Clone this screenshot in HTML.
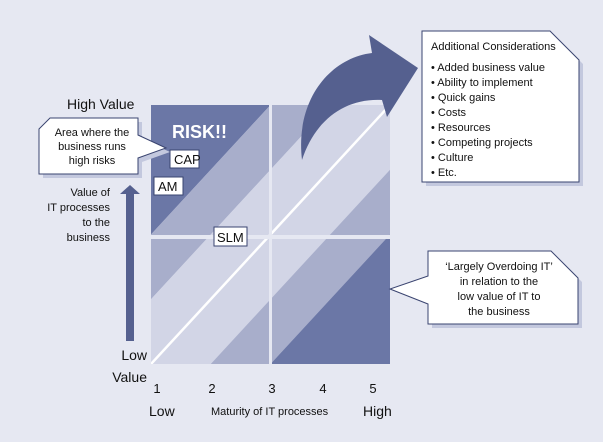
<!DOCTYPE html>
<html><head><meta charset="utf-8"><style>
html,body{margin:0;padding:0;background:#e6e8f2;width:603px;height:442px;overflow:hidden;}
svg{display:block;font-family:"Liberation Sans",sans-serif;}
</style></head><body>
<svg width="603" height="442" viewBox="0 0 603 442">
<defs>
<clipPath id="q1"><rect x="151" y="105" width="118" height="130"/></clipPath>
<clipPath id="q2"><rect x="272" y="105" width="118" height="130"/></clipPath>
<clipPath id="q3"><rect x="151" y="239" width="118" height="125"/></clipPath>
<clipPath id="q4"><rect x="272" y="239" width="118" height="125"/></clipPath>
</defs>
<rect width="603" height="442" fill="#e6e8f2"/>
<g id="bands"></g>
<g id="ticks"></g>
<path d="M302,160 C295,100 330,58 372,53 L369,35 L418,68 L387,117 L382,100 C345,98 315,120 302,160 Z" fill="#55608f"/>
<text x="172" y="138" font-size="18" font-weight="bold" fill="#ffffff">RISK!!</text>
<g><rect x="170" y="150" width="29" height="18" fill="#fff" stroke="#3a4470"/><text x="174" y="164" font-size="13" fill="#111">CAP</text></g>
<g><rect x="154" y="177" width="29" height="18" fill="#fff" stroke="#3a4470"/><text x="158" y="191" font-size="13" fill="#111">AM</text></g>
<g><rect x="214" y="227" width="33" height="19" fill="#fff" stroke="#3a4470"/><text x="217" y="242" font-size="13" fill="#111">SLM</text></g>
<text x="67" y="109" font-size="14" fill="#111">High Value</text>
<text x="147" y="360" font-size="14" fill="#111" text-anchor="end">Low</text>
<text x="147" y="382" font-size="14" fill="#111" text-anchor="end">Value</text>
<path d="M126,341 L126,194 L120,194 L130,185 L140,194 L134,194 L134,341 Z" fill="#55608f"/>
<g font-size="11" fill="#111" text-anchor="end">
<text x="110" y="196">Value of</text><text x="110" y="211">IT processes</text><text x="110" y="226">to the</text><text x="110" y="241">business</text></g>
<text x="149" y="416" font-size="14" fill="#111">Low</text>
<text x="211" y="415" font-size="11" fill="#111">Maturity of IT processes</text>
<text x="363" y="416" font-size="14" fill="#111">High</text>
<g>
<path d="M54,122 L142,122 L142,139 L170,152 L142,162 L142,178 L43,178 L43,133 Z" fill="#c3c8de"/>
<path d="M50,118 L138,118 L138,135 L166,148 L138,158 L138,174 L39,174 L39,129 Z" fill="#fff" stroke="#3a4470" stroke-width="1"/>
<g font-size="11" fill="#111" text-anchor="middle"><text x="92" y="136">Area where the</text><text x="92" y="150">business runs</text><text x="92" y="164">high risks</text></g></g>
<g>
<path d="M426,35 L554,35 L583,64 L583,186 L426,186 Z" fill="#c3c8de"/>
<path d="M422,31 L550,31 L579,60 L579,182 L422,182 Z" fill="#fff" stroke="#3a4470"/>
<g font-size="11" fill="#111"><text x="431" y="50">Additional Considerations</text>
<text x="431" y="71">• Added business value</text><text x="431" y="86">• Ability to implement</text><text x="431" y="101">• Quick gains</text><text x="431" y="116">• Costs</text><text x="431" y="131">• Resources</text><text x="431" y="146">• Competing projects</text><text x="431" y="161">• Culture</text><text x="431" y="176">• Etc.</text></g></g>
<g>
<path d="M432,255 L555,255 L582,282 L582,328 L432,328 Z" fill="#c3c8de"/>
<path d="M428,251 L551,251 L578,278 L578,324 L428,324 L428,304 L390,289 L428,276 Z" fill="#fff" stroke="#3a4470"/>
<g font-size="11" fill="#111" text-anchor="middle"><text x="499" y="270">‘Largely Overdoing IT’</text><text x="499" y="285">in relation to the</text><text x="499" y="300">low value of IT to</text><text x="499" y="315">the business</text></g></g>
</svg>
<script>
const bandEdges = [1, 0.5, 0.25, -0.25, -0.5, -1];
const bandShades = ["dark", "medium", "light", "medium", "dark"];
const tickLabels = ["1", "2", "3", "4", "5"];
const tickValues = [1, 2, 3, 4, 5];
const tickPositions = [157, 212, 272, 323, 373];
const colors = {dark:"#6b77a6", medium:"#a8aecb", light:"#d2d5e6"};
const X0=151, X1=390, Y0=364, Y1=105;
const sx = u => X0 + u*(X1-X0);
const sy = v => Y0 - v*(Y0-Y1);
const NS="http://www.w3.org/2000/svg";
const bands=document.getElementById('bands');
function bandPoly(a,b){
  const pts=[[-1,-1+a],[2,2+a],[2,2+b],[-1,-1+b]];
  return pts.map(p=>sx(p[0]).toFixed(1)+","+sy(p[1]).toFixed(1)).join(" ");
}
["q1","q2","q3","q4"].forEach(q=>{
  const g=document.createElementNS(NS,'g');
  g.setAttribute('clip-path','url(#'+q+')');
  
  
  for(let i=0;i<bandShades.length;i++){
    const p=document.createElementNS(NS,'polygon');
    p.setAttribute('points',bandPoly(bandEdges[i],bandEdges[i+1]));
    p.setAttribute('fill',colors[bandShades[i]]);
    
    
    g.appendChild(p);
  }
  const l=document.createElementNS(NS,'line');
  l.setAttribute('x1',sx(0));l.setAttribute('y1',sy(0));
  l.setAttribute('x2',sx(1));l.setAttribute('y2',sy(1));
  l.setAttribute('stroke','#ffffff');l.setAttribute('stroke-width','2.5');
  
  
  g.appendChild(l);
  bands.appendChild(g);
});
const ticks=document.getElementById('ticks');
tickValues.forEach((t,i)=>{
  const tx=document.createElementNS(NS,'text');
  tx.setAttribute('x',tickPositions[i]);tx.setAttribute('y',393);
  tx.setAttribute('font-size','13');tx.setAttribute('text-anchor','middle');tx.setAttribute('fill','#111');
  
  
  tx.textContent=tickLabels[i];
  ticks.appendChild(tx);
});
</script>
</body></html>
